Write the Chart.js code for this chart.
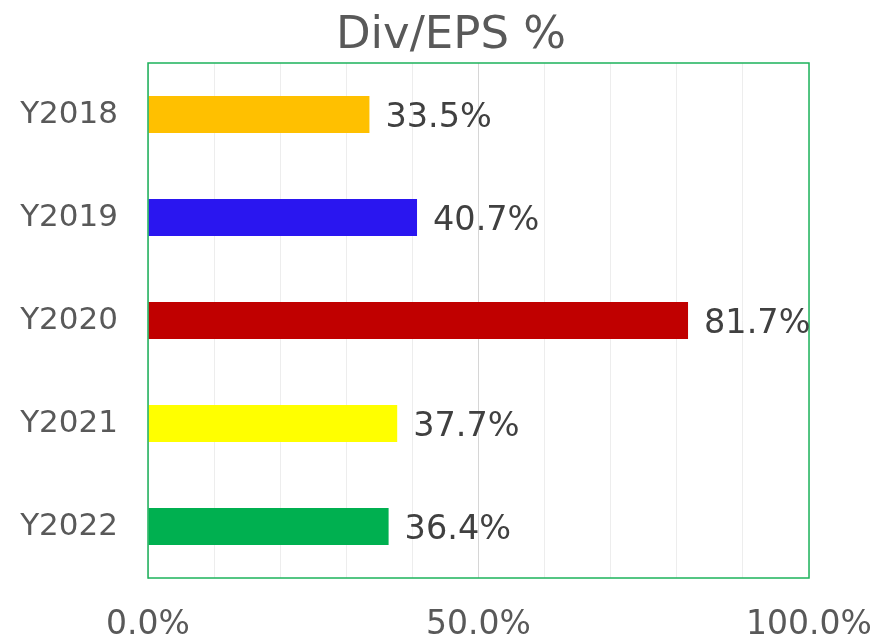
<!DOCTYPE html>
<html>
<head>
<meta charset="utf-8">
<script src="https://cdn.jsdelivr.net/npm/chart.js@4"></script>
<style>
  html, body { margin: 0; padding: 0; background: #fff; }
  #wrap { width: 877px; height: 636px; }
</style>
</head>
<body>
<div id="wrap"><canvas id="chart" width="877" height="636"></canvas></div>
<script>
// data
const chartTitle = 'Div/EPS %';
const years = ['Y2018', 'Y2019', 'Y2020', 'Y2021', 'Y2022'];
const divEps = [33.5, 40.7, 81.7, 37.7, 36.4];
const barColors = ['#FFC000', '#2A16F0', '#C00000', '#FFFF00', '#00B050'];
const xTickLabels = [0, 50, 100];

const FONT = 'DejaVu Sans, Verdana, sans-serif';

// title, plot border and value labels
const extras = {
  id: 'extras',
  afterDraw(chart) {
    const ctx = chart.ctx;
    const area = chart.chartArea;
    ctx.save();
    ctx.fillStyle = '#595959';
    ctx.font = '45px ' + FONT;
    ctx.textAlign = 'center';
    ctx.textBaseline = 'middle';
    ctx.fillText(chartTitle, 451, 36);

    ctx.strokeStyle = '#1DB35B';
    ctx.lineWidth = 1.5;
    ctx.strokeRect(area.left, area.top, area.right - area.left, area.bottom - area.top);

    const meta = chart.getDatasetMeta(0);
    ctx.fillStyle = '#404040';
    ctx.font = '33.5px ' + FONT;
    ctx.textAlign = 'left';
    meta.data.forEach((bar, i) => {
      ctx.fillText(divEps[i].toFixed(1) + '%', bar.x + 16, bar.y + 4);
    });
    ctx.restore();
  }
};

new Chart(document.getElementById('chart'), {
  type: 'bar',
  data: {
    labels: years,
    datasets: [{
      data: divEps,
      backgroundColor: barColors,
      borderWidth: 0,
      categoryPercentage: 1,
      barPercentage: 0.36
    }]
  },
  options: {
    indexAxis: 'y',
    responsive: false,
    animation: false,
    layout: { padding: { top: 63, right: 68, left: 0, bottom: 0 } },
    plugins: {
      legend: { display: false },
      tooltip: { enabled: false }
    },
    scales: {
      x: {
        min: 0,
        max: 100,
        ticks: {
          stepSize: 10,
          autoSkip: false,
          maxRotation: 0,
          color: '#595959',
          font: { family: FONT, size: 33 },
          padding: 28,
          callback: (v) => xTickLabels.includes(v) ? v.toFixed(1) + '%' : ''
        },
        grid: {
          color: (c) => (c.tick && c.tick.value === 50) ? '#D6D6D6' : '#EDEDED',
          drawTicks: false
        },
        border: { display: false },
        afterFit(scale) {
          scale.height = 58;
          scale.paddingLeft = 0;
          scale.paddingRight = 0;
        }
      },
      y: {
        ticks: {
          color: '#595959',
          font: { family: FONT, size: 31, lineHeight: 1.4 },
          padding: 30
        },
        grid: { display: false, drawTicks: false },
        border: { display: true, color: '#D0D0D0' },
        afterFit(scale) { scale.width = 148; }
      }
    }
  },
  plugins: [extras]
});
</script>
</body>
</html>
